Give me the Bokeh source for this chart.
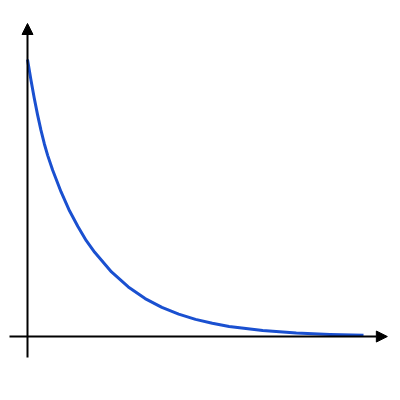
from bokeh.plotting import figure
from bokeh.models import Range1d, Arrow, NormalHead
from bokeh.embed import file_html
from bokeh.resources import INLINE

# Decay curve values
t_values = [0.0, 0.1, 0.2, 0.3, 0.4, 0.5, 0.6, 0.75, 1.0,
            1.25, 1.5, 1.75, 2.0, 2.5, 3.0, 3.5, 4.0, 4.5, 5.0, 5.5, 6.0,
            7.0, 8.0, 9.0, 10.0]
y_values = [1.000, 0.928, 0.861, 0.800, 0.745, 0.696, 0.654, 0.600, 0.522,
            0.454, 0.397, 0.346, 0.304, 0.233, 0.179, 0.137, 0.105, 0.081, 0.062, 0.048, 0.0365,
            0.0215, 0.0127, 0.0074, 0.0044]

p = figure(width=392, height=392, output_backend="svg", toolbar_location=None,
           x_axis_location=None, y_axis_location=None, min_border=0,
           x_range=Range1d(-0.8036, 10.863), y_range=Range1d(-0.202, 1.213))
p.grid.visible = False
p.outline_line_color = None
p.background_fill_color = "white"

# axes with arrow heads
p.add_layout(Arrow(end=NormalHead(size=11, fill_color="black", line_color="black"),
                   x_start=-0.536, y_start=0.0, x_end=10.71, y_end=0.0,
                   line_color="black", line_width=2))
p.add_layout(Arrow(end=NormalHead(size=11, fill_color="black", line_color="black"),
                   x_start=0.0, y_start=-0.076, x_end=0.0, y_end=1.13,
                   line_color="black", line_width=2))

p.line(t_values, y_values, line_color="#1a50d0", line_width=3, line_join="round")

open("out.html", "w").write(file_html(p, INLINE))
